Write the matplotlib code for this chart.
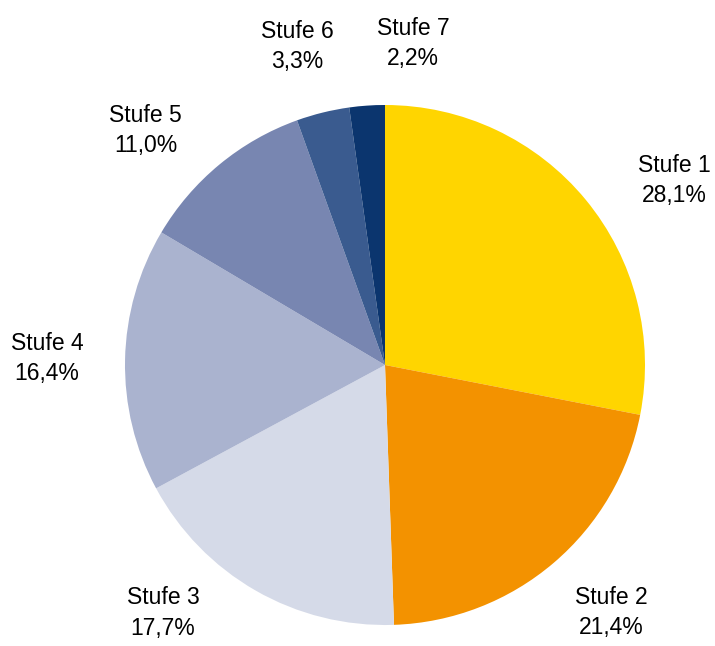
import numpy as np
import matplotlib
matplotlib.use("Agg")
import matplotlib.pyplot as plt
from matplotlib import font_manager

labels = ["Stufe 1", "Stufe 2", "Stufe 3", "Stufe 4", "Stufe 5", "Stufe 6", "Stufe 7"]
shares = [28.1, 21.4, 17.7, 16.4, 11.0, 3.3, 2.2]
colors = ["#FFD500", "#F39200", "#D5DAE8", "#AAB3CF", "#7886B1", "#3A5B8F", "#0B356E"]

names = {f.name for f in font_manager.fontManager.ttflist}
font = "Liberation Sans Narrow" if "Liberation Sans Narrow" in names else "Liberation Sans"
plt.rcParams["font.family"] = [font, "DejaVu Sans"]

fig = plt.figure(figsize=(7.15, 6.46), dpi=100)
cx, cy, r = 385, 646 - 365, 260
ax = fig.add_axes([(cx - r) / 715, (cy - r) / 646, 2 * r / 715, 2 * r / 646])

wedges, _ = ax.pie(shares, colors=colors, startangle=90, counterclock=False,
                   wedgeprops=dict(linewidth=0))
ax.set_xlim(-1, 1)
ax.set_ylim(-1, 1)
ax.set_aspect("equal")
ax.axis("off")

# nudge some labels off the mid-angle, roughly where the original puts them
nudge = [-7, 2, -12, 0, 6, 1.5, -9]
dist = [1.32, 1.29, 1.28, 1.30, 1.29, 1.27, 1.24]
for w, lab, val, dn, d in zip(wedges, labels, shares, nudge, dist):
    ang = np.deg2rad((w.theta1 + w.theta2) / 2 + dn)
    txt = f"{lab}\n{val:.1f}%".replace(".", ",")
    ax.text(d * np.cos(ang), d * np.sin(ang), txt, ha="center", va="center",
            fontsize=16.5, color="#000000", linespacing=1.4, clip_on=False)

fig.savefig("out.png", dpi=100, facecolor="white")
